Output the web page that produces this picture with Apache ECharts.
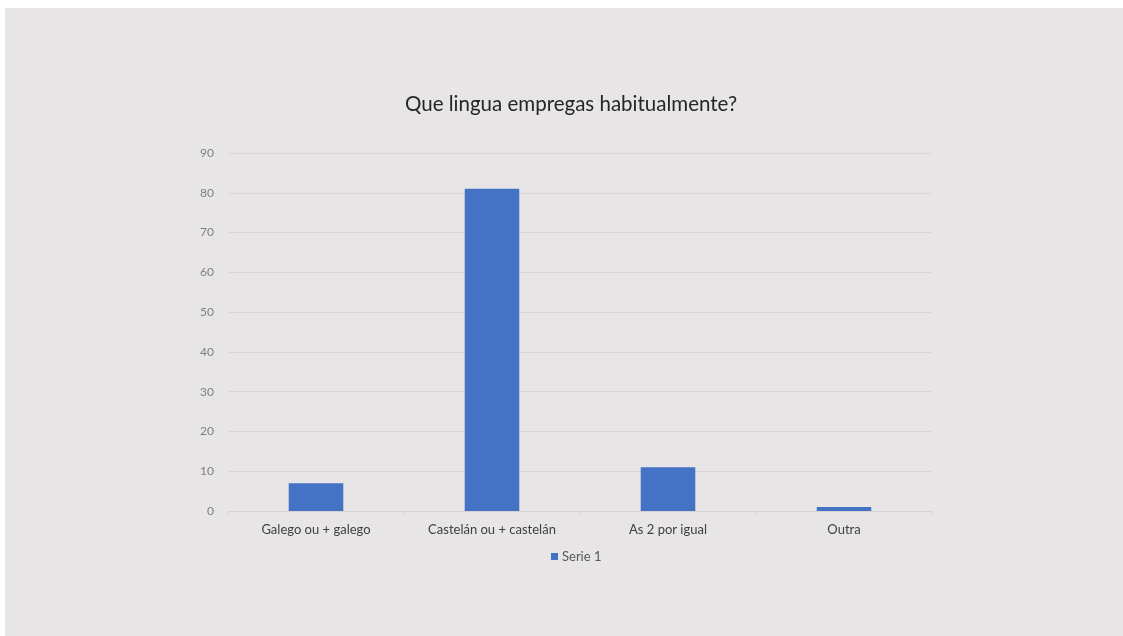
<!DOCTYPE html>
<html>
<head>
<meta charset="utf-8">
<script src="https://cdn.jsdelivr.net/npm/echarts@6/dist/echarts.min.js"></script>
<style>
    html, body { margin: 0; padding: 0; background: #ffffff; }
    #main { position: absolute; left: 5px; top: 8px; width: 1118px; height: 628px; background: #e7e5e5; }
</style>
</head>
<body>
<div id="main"></div>
<script>
var categories = ["Galego ou + galego", "Castelán ou + castelán", "As 2 por igual", "Outra"];
var serie1 = [7, 81, 11, 1];
var yTicks = [0, 10, 20, 30, 40, 50, 60, 70, 80, 90];

var chart = echarts.init(document.getElementById("main"));
chart.setOption({
    backgroundColor: "transparent",
    textStyle: { fontFamily: "Lato, 'Open Sans', sans-serif" },
    title: {
        text: "Que lingua empregas habitualmente?",
        left: 395,
        top: 81,
        textStyle: { fontSize: 20.5, fontWeight: "normal", color: "#262626", fontFamily: "Lato, sans-serif" }
    },
    legend: {
        data: ["Serie 1"],
        left: 541,
        top: 537,
        itemWidth: 7,
        itemHeight: 7,
        itemGap: 4,
        icon: "rect",
        textStyle: { fontSize: 13, color: "#595959", padding: [0, 0, 0, -1] }
    },
    grid: { left: 223, right: 191, top: 145, bottom: 125, containLabel: false },
    xAxis: {
        type: "category",
        data: categories,
        axisLine: { lineStyle: { color: "#d4d2d2" } },
        axisTick: { show: true, length: 4, lineStyle: { color: "#d4d2d2" } },
        axisLabel: { fontSize: 13, color: "#404040", margin: 12 }
    },
    yAxis: {
        type: "value",
        min: yTicks[0],
        max: yTicks[yTicks.length - 1],
        interval: 10,
        axisLine: { show: false },
        axisTick: { show: false },
        splitLine: { lineStyle: { color: "#d8d6d6" } },
        axisLabel: { fontSize: 12, color: "#7f7f7f", margin: 14 }
    },
    series: [{
        name: "Serie 1",
        type: "bar",
        data: serie1,
        barWidth: "31%",
        itemStyle: { color: "#4472c4" }
    }]
});
</script>
</body>
</html>
